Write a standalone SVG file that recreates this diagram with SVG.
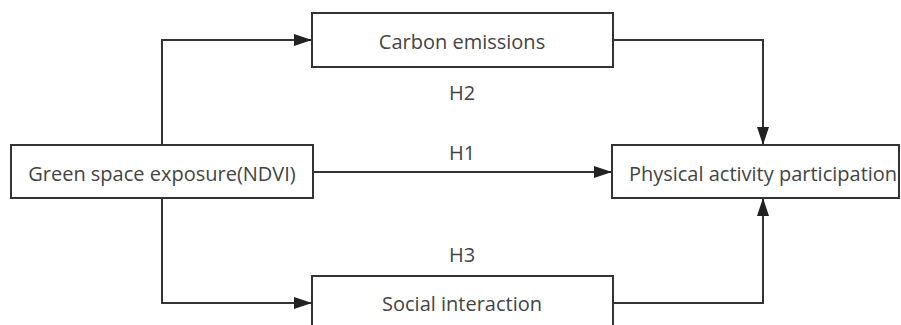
<svg xmlns="http://www.w3.org/2000/svg" width="901" height="325" viewBox="0 0 901 325">
<defs>
<style>
.box{fill:#fff;stroke:#333;stroke-width:2}
.t{font-family:"Open Sans","Noto Sans",sans-serif;font-size:20px;fill:#444;text-anchor:middle;dominant-baseline:central}
.c{fill:none;stroke:#333;stroke-width:2}
</style>
<marker id="b" viewBox="0 0 18 12" refX="18" refY="6" markerWidth="18" markerHeight="12" markerUnits="userSpaceOnUse" orient="auto">
<path d="M0,0L18,6L0,12Z" fill="#222"/>
</marker>
</defs>
<rect width="901" height="325" fill="#fff"/>
<g id="connectors">
<path class="c" d="M162,145V40H312" marker-end="url(#b)"/>
<path class="c" d="M162,198V303H312" marker-end="url(#b)"/>
<path class="c" d="M313,172H612" marker-end="url(#b)"/>
<path class="c" d="M613,40H763V145" marker-end="url(#b)"/>
<path class="c" d="M613,303H763V198" marker-end="url(#b)"/>
<text class="t" x="462" y="92">H2</text>
<text class="t" x="462" y="152">H1</text>
<text class="t" x="462" y="254">H3</text>
</g>
<g id="carbon">
<rect class="box" x="312" y="13" width="301" height="54"/>
<text class="t" x="462" y="41">Carbon emissions</text>
</g>
<g id="green">
<rect class="box" x="11" y="145" width="302" height="53"/>
<text class="t" x="162" y="173">Green space exposure(NDVI)</text>
</g>
<g id="physical">
<rect class="box" x="612" y="145" width="287" height="53"/>
<text class="t" x="763" y="173">Physical activity participation</text>
</g>
<g id="social">
<rect class="box" x="312" y="276" width="301" height="60"/>
<text class="t" x="462" y="303">Social interaction</text>
</g>
</svg>
